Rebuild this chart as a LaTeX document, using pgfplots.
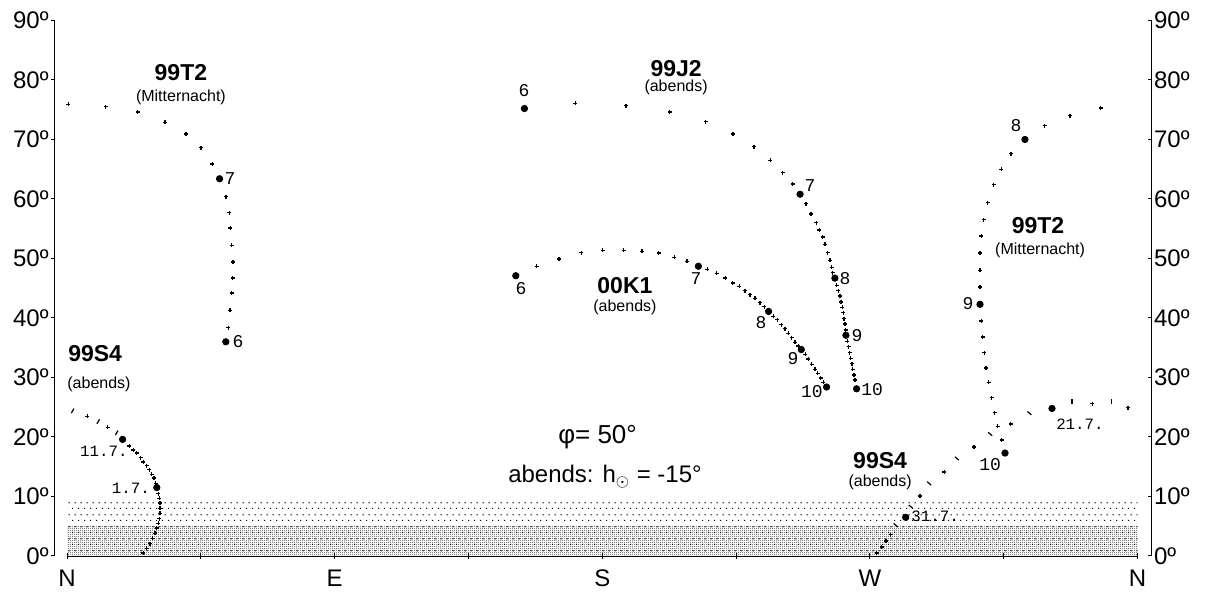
\documentclass[border=0pt]{standalone}
\usepackage{fontspec}
\setmainfont{Liberation Sans}
\newfontfamily\mono{Liberation Mono}
\usepackage{pgfplots}
\pgfplotsset{compat=1.18}
\usetikzlibrary{patterns.meta}

\tikzdeclarepattern{
  name=sparsedots, type=uncolored,
  bounding box={(0pt,0pt) and (3pt,6pt)},
  tile size={(3pt,6pt)},
  code={\fill (0pt,0pt) rectangle (0.6pt,0.6pt);
        \fill (1.5pt,3pt) rectangle (2.1pt,3.6pt);}
}
\tikzdeclarepattern{
  name=densedots, type=uncolored,
  bounding box={(0pt,0pt) and (1pt,1pt)},
  tile size={(1pt,1pt)},
  code={\fill (0pt,0pt) rectangle (0.5pt,0.5pt);
        \fill (0.5pt,0.5pt) rectangle (0.8pt,0.8pt);}
}

\newcommand{\nm}{\mono\fontsize{9}{10}\selectfont}
\newcommand{\dt}{\mono\fontsize{7.9}{9}\selectfont}
\newcommand{\ttl}{\bfseries\fontsize{11.5}{13}\selectfont}
\newcommand{\sub}{\fontsize{8}{9}\selectfont}

\begin{document}
\begin{tikzpicture}
\begin{axis}[
  at={(0,0)}, anchor=south west,
  x=1.487pt, y=2.975pt,
  xmin=0, xmax=360, ymin=0, ymax=90,
  axis x line=bottom, axis y line=none,
  axis line style={-, line width=0.5pt},
  xtick={0,45,...,360},
  xticklabels={N,,E,,S,,W,,N},
  tick align=center, major tick length=3pt,
  tick style={line width=0.5pt, black},
  xticklabel style={font=\fontsize{12}{14}\selectfont, yshift=-2pt},
  clip=false,
]
% horizon bands
\addplot[draw=none, pattern=sparsedots, pattern color=black] coordinates {(0,9.2) (360,9.2)} \closedcycle;
\addplot[draw=none, pattern=densedots, pattern color=black] coordinates {(0,5) (360,5)} \closedcycle;

% small daily points
\addplot[only marks, mark=+, mark size=1pt, mark options={line width=0.65pt}] coordinates {
% 99T2
(0.4,75.9) (13.0,75.5) (23.8,74.6) (33.0,72.9) (40.0,70.9) (45.1,68.6) (48.9,65.9)
(53.5,60.4) (54.6,57.7) (54.9,55.1) (55.4,52.2) (55.8,49.4) (55.7,46.7) (55.4,44.2) (54.8,41.3) (54.2,38.4)
(347.6,75.3) (337.2,74.0) (328.7,72.3) (317.4,67.6) (314.2,65.0) (311.6,62.4) (309.6,59.4) (308.2,56.5)
(307.4,53.8) (307.0,50.9) (307.0,48.0) (307.0,45.2) (307.4,39.5) (307.9,36.8) (308.4,34.2) (309.0,31.6)
(309.9,29.2) (310.9,26.6) (311.9,24.1) (312.9,21.8) (314.3,19.5)
% 99J2
(170.9,76.1) (188.0,75.7) (202.7,74.6) (214.8,73.0) (223.9,70.9) (231.0,68.8) (236.5,66.5) (240.6,64.4) (244.0,62.5)
(248.5,59.2) (250.2,57.5) (251.9,56.0) (253.0,54.8) (254.1,53.6) (254.9,52.4) (255.8,51.0) (256.6,49.7) (257.1,48.5) (257.5,47.6)
(258.8,45.5) (259.3,44.6) (259.9,43.7) (260.3,42.7) (260.7,41.8) (261.0,40.9) (261.3,39.9) (261.6,39.0) (261.8,38.0)
(262.4,36.1) (262.8,35.2) (263.2,34.2) (263.5,33.2) (263.9,32.3) (264.2,31.4) (264.6,30.4) (265.0,29.6)
% 00K1
(157.9,48.7) (165.4,49.9) (172.9,51.0) (180.1,51.4) (187.2,51.4) (193.3,51.2) (199.0,50.9) (204.2,50.2) (208.5,49.5)
(215.3,48.2) (218.5,47.5) (221.3,46.7) (223.8,45.9) (226.1,45.3) (228.0,44.6) (229.7,43.9) (231.3,43.3) (233.0,42.6) (234.5,41.9)
(237.5,40.3) (238.8,39.7) (240.2,38.9) (241.4,38.2) (242.5,37.4) (243.7,36.7) (244.8,35.9) (245.9,35.3)
(248.2,33.9) (249.3,33.1) (250.4,32.2) (251.5,31.4) (252.4,30.7) (253.4,29.9) (254.3,29.2)
% 99S4
(6.8,23.5) (13.7,21.6)
(20.9,18.5) (22.3,17.8) (23.4,17.3) (24.8,16.5) (25.7,15.8) (26.8,15.2) (27.7,14.5) (28.5,13.7) (29.3,13.1) (29.8,12.2)
(30.7,10.5) (31.0,9.7) (31.3,8.9) (31.3,8.0) (31.3,7.2) (31.0,6.3) (30.7,5.5) (30.2,4.7) (29.6,3.8) (28.8,3.0) (27.9,2.1) (26.8,1.3) (25.7,0.5)
(356.8,24.9) (344.7,25.6) (317.3,22.2) (305.0,18.3) (295.0,14.1) (286.8,10.1)
(277.0,3.6) (275.4,2.5) (273.9,1.5) (272.3,0.5)
};

% 99S4 tail ticks
\addplot[only marks, mark=|, mark size=1.3pt, mark options={line width=0.6pt, rotate=-30}] coordinates {
(1.9,24.4) (10.5,22.6) (16.7,20.7)
};
\addplot[only marks, mark=|, mark size=1.3pt, mark options={line width=0.6pt}] coordinates {
(351.3,25.9) (337.9,25.9)
};
\addplot[only marks, mark=|, mark size=1.3pt, mark options={line width=0.6pt, rotate=50}] coordinates {
(323.6,24.0) (310.4,20.5) (299.2,16.4) (289.9,12.2) (283.7,8.3) (278.6,5.2)
};

% big dots (month / date markers)
\addplot[only marks, mark=*, mark size=1.6pt] coordinates {
(51.3,63.4) (53.4,36.0) (322.1,70.0) (307.0,42.3) (315.4,17.3)
(153.8,75.2) (246.5,60.8) (258.2,46.7) (261.9,37.1) (265.5,28.1)
(150.9,47.1) (212.3,48.7) (235.9,41.1) (246.9,34.7) (255.4,28.4)
(18.7,19.6) (30.2,11.5) (331.2,24.8) (282.0,6.5)
};

% titles
\node[font=\ttl] at (axis cs:38.3,81.3) {99T2};
\node[font=\sub] at (axis cs:38.3,77.1) {(Mitternacht)};
\node[font=\ttl] at (axis cs:204.8,82.0) {99J2};
\node[font=\sub] at (axis cs:204.8,78.7) {(abends)};
\node[font=\ttl] at (axis cs:187.6,45.4) {00K1};
\node[font=\sub] at (axis cs:187.6,41.8) {(abends)};
\node[font=\ttl] at (axis cs:326.5,55.5) {99T2};
\node[font=\sub] at (axis cs:327.2,51.4) {(Mitternacht)};
\node[font=\ttl, anchor=west, inner sep=0pt] at (axis cs:0.3,34.1) {99S4};
\node[font=\sub, anchor=west, inner sep=0pt] at (axis cs:0,28.9) {(abends)};
\node[font=\ttl] at (axis cs:273.4,16.1) {99S4};
\node[font=\sub] at (axis cs:273.4,12.4) {(abends)};
\node[font=\fontsize{13}{15}\selectfont] at (axis cs:178.4,20.0) {φ= 50°};
\node[font=\fontsize{12}{14}\selectfont] at (axis cs:180.9,13.3) {abends: h$_{\odot}$ = -15°};

% month labels
\node[font=\nm] at (axis cs:54.8,63.4) {7};
\node[font=\nm] at (axis cs:57.5,36.0) {6};
\node[font=\nm] at (axis cs:153.7,78.3) {6};
\node[font=\nm] at (axis cs:249.8,62.2) {7};
\node[font=\nm] at (axis cs:261.6,46.7) {8};
\node[font=\nm] at (axis cs:265.6,37.1) {9};
\node[font=\nm] at (axis cs:270.7,27.9) {10};
\node[font=\nm] at (axis cs:152.7,44.9) {6};
\node[font=\nm] at (axis cs:211.5,46.6) {7};
\node[font=\nm] at (axis cs:233.4,39.2) {8};
\node[font=\nm] at (axis cs:244.1,33.1) {9};
\node[font=\nm] at (axis cs:250.5,27.6) {10};
\node[font=\nm] at (axis cs:319.1,72.3) {8};
\node[font=\nm] at (axis cs:303.0,42.4) {9};
\node[font=\nm] at (axis cs:310.4,15.3) {10};
% date labels
\node[font=\dt] at (axis cs:12.4,17.6) {11.7.};
\node[font=\dt] at (axis cs:21.5,11.3) {1.7.};
\node[font=\dt] at (axis cs:291.9,6.6) {31.7.};
\node[font=\dt] at (axis cs:340.6,22.2) {21.7.};
\end{axis}

% left altitude scale
\begin{axis}[
  at={(-6pt,0)}, anchor=south west,
  x=1pt, y=2.975pt, xmin=0, xmax=1, ymin=0, ymax=90,
  axis x line=none, axis y line=left,
  axis line style={-, line width=0.5pt},
  ytick={0,10,...,90},
  yticklabels={0º,10º,20º,30º,40º,50º,60º,70º,80º,90º},
  tick align=outside, major tick length=2pt,
  tick style={line width=0.5pt, black},
  yticklabel style={font=\fontsize{12}{14}\selectfont, inner sep=1pt},
]
\end{axis}
% right altitude scale
\begin{axis}[
  at={(542.35pt,0)}, anchor=south east,
  x=1pt, y=2.975pt, xmin=0, xmax=1, ymin=0, ymax=90,
  axis x line=none, axis y line=right,
  axis line style={-, line width=0.5pt},
  ytick={0,10,...,90},
  yticklabels={0º,10º,20º,30º,40º,50º,60º,70º,80º,90º},
  tick align=inside, major tick length=2pt,
  tick style={line width=0.5pt, black},
  yticklabel style={font=\fontsize{12}{14}\selectfont, inner sep=1pt},
]
\end{axis}
\pgfresetboundingbox
\path[use as bounding box] (-33.5pt,-18.5pt) rectangle (570.5pt,278pt);
\end{tikzpicture}
\end{document}
